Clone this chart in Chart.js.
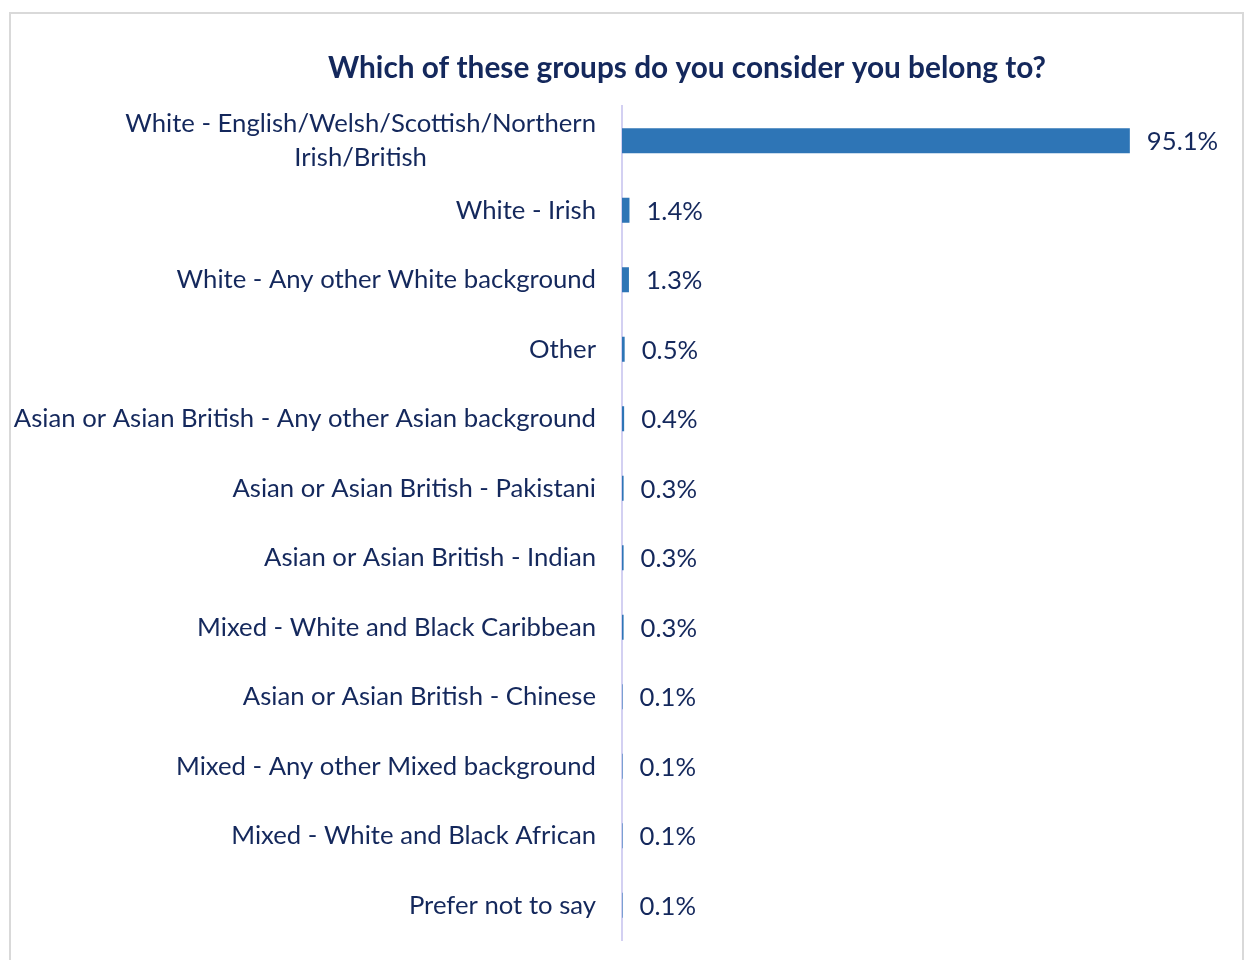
<!DOCTYPE html>
<html>
<head>
<meta charset="utf-8">
<script src="https://cdn.jsdelivr.net/npm/chart.js@4"></script>
<style>
  html, body { margin: 0; padding: 0; background: #fff; }
  #wrap { position: relative; width: 1244px; height: 960px; overflow: hidden; }
  #frame { position: absolute; left: 9px; top: 12px; width: 1235px; height: 960px;
           border: 2px solid #d9d9d9; box-sizing: border-box; }
  canvas { position: absolute; left: 0; top: 0; }
</style>
</head>
<body>
<div id="wrap">
  <div id="frame"></div>
  <canvas id="c" width="1244" height="960"></canvas>
</div>
<script>
const chartTitle = 'Which of these groups do you consider you belong to?';

const categories = [
  ['White - English/Welsh/Scottish/Northern', 'Irish/British'],
  'White - Irish',
  'White - Any other White background',
  'Other',
  'Asian or Asian British - Any other Asian background',
  'Asian or Asian British - Pakistani',
  'Asian or Asian British - Indian',
  'Mixed - White and Black Caribbean',
  'Asian or Asian British - Chinese',
  'Mixed - Any other Mixed background',
  'Mixed - White and Black African',
  'Prefer not to say'
];

const shares = [95.1, 1.4, 1.3, 0.5, 0.4, 0.3, 0.3, 0.3, 0.1, 0.1, 0.1, 0.1];

const navy = '#14285c';
const barBlue = '#2e75b6';
const labelFont = '25.7px Lato';

// Category names (centred multi-line block, right edge by the axis), value labels and title
const textPlugin = {
  id: 'texts',
  afterDatasetsDraw(chart) {
    const { ctx, chartArea, scales } = chart;
    const y = scales.y;
    const meta = chart.getDatasetMeta(0);
    ctx.save();
    ctx.fillStyle = navy;
    ctx.textBaseline = 'middle';

    // title
    ctx.font = 'bold 29.8px Lato';
    ctx.textAlign = 'center';
    ctx.fillText(chartTitle, 687, 68);

    ctx.font = labelFont;
    const lineH = 34;
    const rightEdge = chartArea.left - 26;
    categories.forEach((cat, i) => {
      const cy = y.getPixelForValue(i);
      const lines = Array.isArray(cat) ? cat : [cat];
      const widths = lines.map(l => ctx.measureText(l).width);
      const widest = Math.max(...widths);
      const centreX = rightEdge - widest / 2;
      ctx.textAlign = 'center';
      lines.forEach((l, k) => {
        ctx.fillText(l, centreX, cy + (k - (lines.length - 1) / 2) * lineH);
      });
    });

    // value labels
    ctx.textAlign = 'left';
    meta.data.forEach((bar, i) => {
      ctx.fillText(shares[i].toFixed(1) + '%', bar.x + 17, bar.y + 1);
    });
    ctx.restore();
  }
};

new Chart(document.getElementById('c'), {
  type: 'bar',
  data: {
    labels: categories,
    datasets: [{
      data: shares,
      backgroundColor: barBlue,
      borderWidth: 0,
      barPercentage: 0.36,
      categoryPercentage: 1
    }]
  },
  options: {
    indexAxis: 'y',
    responsive: false,
    animation: false,
    layout: { padding: { left: 622, right: 88, top: 106, bottom: 20 } },
    plugins: { legend: { display: false }, tooltip: { enabled: false }, title: { display: false } },
    scales: {
      x: { display: false, min: 0, max: 100 },
      y: {
        ticks: { display: false },
        grid: { display: false, drawTicks: false },
        border: { display: true, color: '#d3d0f2', width: 2 }
      }
    }
  },
  plugins: [textPlugin]
});
</script>
</body>
</html>
